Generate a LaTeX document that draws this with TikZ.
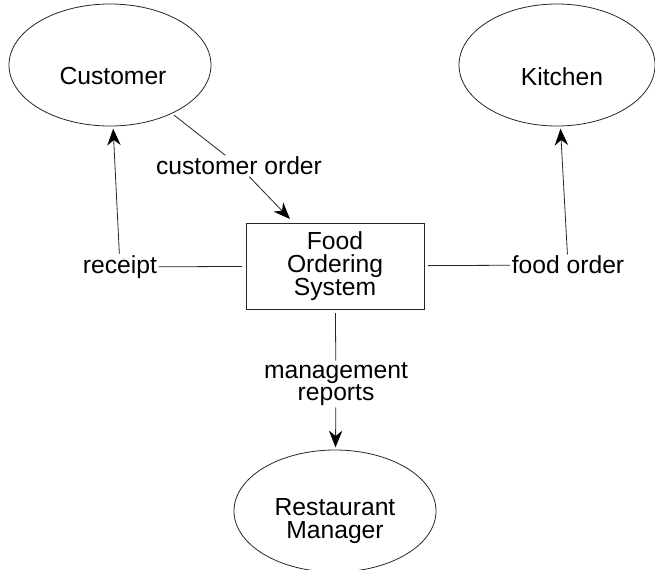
\documentclass[tikz,border=0pt]{standalone}
\usepackage{fontspec}
\setmainfont{Liberation Sans}
\usetikzlibrary{shapes.geometric,arrows.meta}

\begin{document}
\begin{tikzpicture}[x=0.75pt,y=0.75pt,yscale=-1,
  font=\fontsize{18.5}{17}\selectfont,
  entity/.style={draw=black!85,line width=0.6pt,ellipse,minimum width=151.5pt,minimum height=91.5pt,inner sep=0pt,outer sep=2pt},
  process/.style={draw=black!85,line width=0.6pt,rectangle,minimum width=133.5pt,minimum height=64.5pt,align=center,outer sep=3pt},
  flowlabel/.style={inner sep=1pt,align=center},
  flow/.style={draw=black!85,line width=0.6pt},
  arrow/.style={flow,-{Stealth[length=12.5pt,width=10pt,inset=4pt,color=black]}}]
\useasboundingbox (0,0) rectangle (655,569);

%Entities
\node[entity] (cust) at (110,65) {};
\node (custname) at (113,76) {Customer};
\node[entity,minimum width=147pt] (kit) at (557,65) {};
\node (kitname) at (562,77) {Kitchen};
\node[entity] (mgr) at (335,511) {};
\node[align=center] (mgrname) at (335,521) {Restaurant\\Manager};

%Process
\node[process] (fos) at (335,266) {Food\\Ordering\\System};

%Flow labels
\node[flowlabel] (coname) at (239,166) {customer order};
\node[flowlabel] (rcpt) at (120,267) {receipt};
\node[flowlabel] (ford) at (568,265) {food order};
\node[flowlabel] (mgmt) at (336,384) {management\\reports};

%Flows
\draw[flow] (cust) -- (coname);
\draw[arrow] (coname) -- (fos);
\draw[flow] (fos) -- (rcpt);
\draw[arrow] (rcpt) -- (cust);
\draw[flow] (fos) -- (ford);
\draw[arrow] (ford) -- (kit);
\draw[flow] (fos) -- (mgmt);
\draw[arrow] (mgmt) -- (mgr);

\end{tikzpicture}
\end{document}
